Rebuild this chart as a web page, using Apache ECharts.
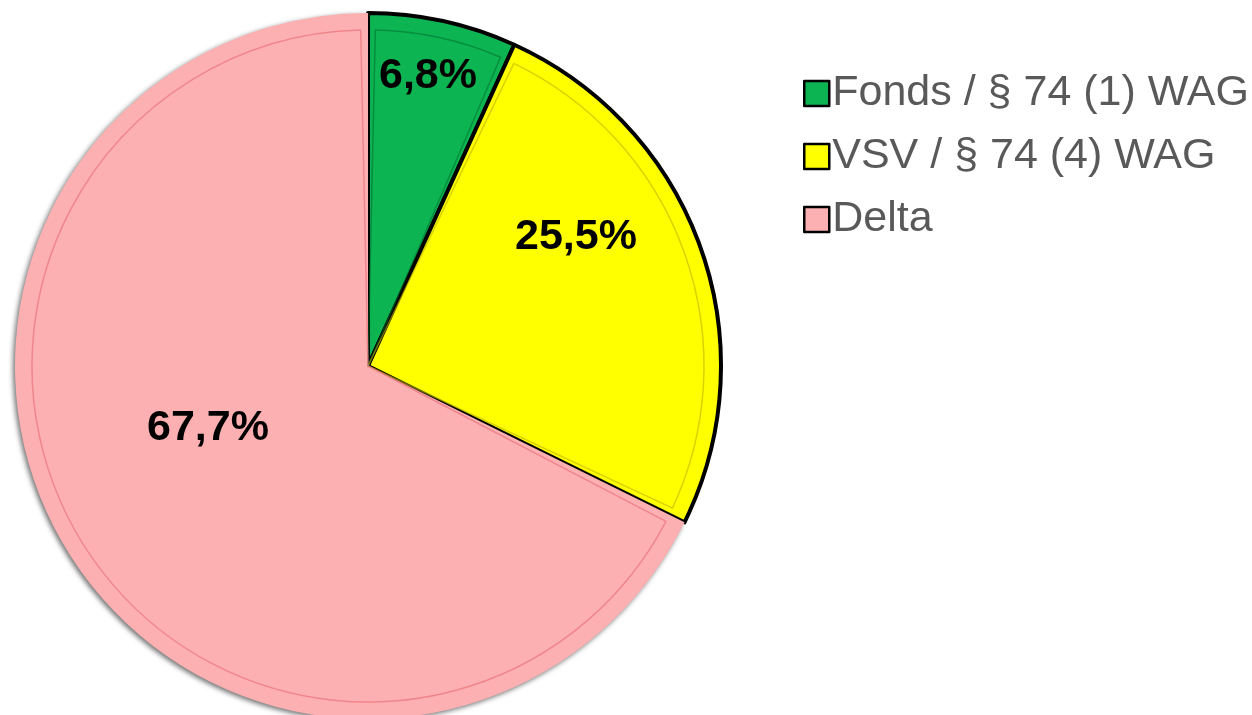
<!DOCTYPE html>
<html>
<head>
<meta charset="utf-8">
<script src="https://cdn.jsdelivr.net/npm/echarts@6/dist/echarts.min.js"></script>
<style>
html,body{margin:0;padding:0;background:#fff;}
#c{width:1252px;height:715px;}
</style>
</head>
<body>
<div id="c"></div>
<script>
const categories = ['Fonds / § 74 (1) WAG', 'VSV / § 74 (4) WAG', 'Delta'];
const values = [6.8, 25.5, 67.7];
const labelTexts = ['6,8%', '25,5%', '67,7%'];

const colors = ['#0DB552', '#FFFF00', '#FDB0B2'];
const bevelColors = ['rgba(0,110,45,0.55)', 'rgba(190,180,0,0.6)', 'rgba(235,120,128,0.75)'];
const labelPosX = [428, 576, 208];
const labelPosY = [76, 237, 428];

const chart = echarts.init(document.getElementById('c'), null, {renderer: 'canvas'});
const data = categories.map((n, i) => ({
  name: n,
  value: values[i],
  itemStyle: i === 2 ? {
    color: colors[i], borderColor: 'rgba(0,0,0,0)', borderWidth: 0,
    shadowBlur: 5, shadowColor: 'rgba(0,0,0,0.55)', shadowOffsetX: -2, shadowOffsetY: 2
  } : {
    color: colors[i], borderColor: '#000', borderWidth: 4
  }
}));
const bevelData = categories.map((n, i) => ({
  name: n,
  value: values[i],
  itemStyle: {color: 'rgba(0,0,0,0)', borderColor: bevelColors[i], borderWidth: 1.5}
}));

chart.setOption({
  animation: false,
  legend: {
    orient: 'vertical',
    left: 798,
    top: 67,
    data: categories,
    itemWidth: 25,
    itemHeight: 25,
    itemGap: 20,
    icon: 'rect',
    itemStyle: {borderColor: '#000', borderWidth: 2.5},
    textStyle: {fontFamily: 'Liberation Sans, Arial, sans-serif', fontSize: 43, color: '#595959', lineHeight: 43, padding: [0,0,0,-2]},
    selectedMode: false
  },
  series: [{
    type: 'pie',
    center: [368, 366],
    radius: 353,
    startAngle: 90,
    clockwise: true,
    avoidLabelOverlap: false,
    emphasis: {disabled: true},
    label: {
      show: true,
      position: 'inside',
      formatter: p => labelTexts[p.dataIndex],
      fontFamily: 'Liberation Sans, Arial, sans-serif',
      fontWeight: 'bold',
      fontSize: 43,
      color: '#000'
    },
    labelLayout: p => ({x: labelPosX[p.dataIndex], y: labelPosY[p.dataIndex], align: 'center', verticalAlign: 'middle'}),
    labelLine: {show: false},
    data: data,
    z: 1
  }, {
    type: 'pie',
    center: [368, 366],
    radius: 336,
    startAngle: 90,
    clockwise: true,
    padAngle: 2.5,
    silent: true,
    emphasis: {disabled: true},
    label: {show: false},
    labelLine: {show: false},
    data: bevelData,
    z: 2
  }]
});
</script>
</body>
</html>
